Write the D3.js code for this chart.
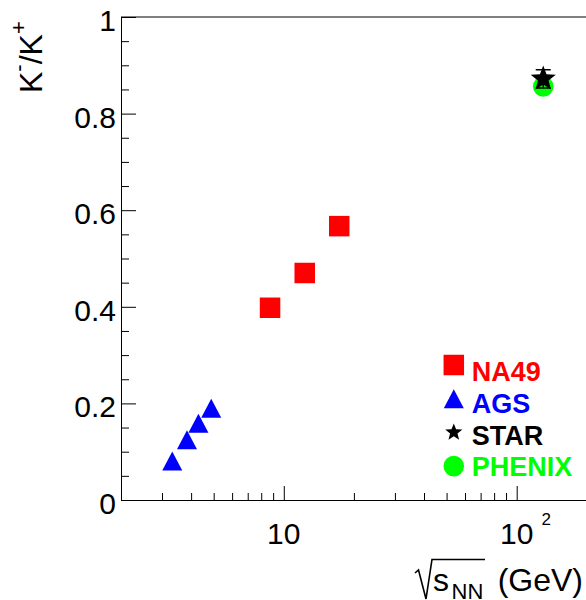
<!DOCTYPE html>
<html>
<head>
<meta charset="utf-8">
<script src="https://cdn.jsdelivr.net/npm/d3@7"></script>
<style>
  body { margin: 0; background: #fff; }
  svg { display: block; font-family: "Liberation Sans", Arial, sans-serif; }
</style>
</head>
<body>
<div id="chart-area"></div>
<script>

// values
var na49Energy = [8.73, 12.3, 17.3];
var na49Ratio = [0.398, 0.470, 0.567];

var agsEnergy = [3.32, 3.84, 4.30, 4.88];
var agsRatio = [0.081, 0.125, 0.159, 0.190];

var starEnergy = [130];
var starRatio = [0.872];
var starError = [0.019];

var phenixEnergy = [130];
var phenixRatio = [0.856];

var yTicks = [0, 0.2, 0.4, 0.6, 0.8, 1];
var xTicks = [10, 100];
var xTickBase = ["10", "10"];
var xTickExp = ["", "2"];

var legendNames = ["NA49", "AGS", "STAR", "PHENIX"];
var legendColors = ["#ff0000", "#0000ff", "#000000", "#00ff00"];

var width = 586, height = 600;

var svg = d3.select("#chart-area")
  .append("svg")
    .attr("width", width)
    .attr("height", height);

var x = d3.scaleLog()
    .domain([2, 200])
    .range([121, 586.8]);

var y = d3.scaleLinear()
    .domain([0, 1])
    .range([500, 17]);

// marker shapes
var squarePath = d3.symbol(d3.symbolSquare, 20.5 * 20.5)();
var circlePath = d3.symbol(d3.symbolCircle, Math.PI * 10.3 * 10.3)();
var trianglePath = "M0,-9.5L10,9.5L-10,9.5Z";
function starShape(R, r) {
    var pts = [];
    for (var i = 0; i < 10; i++) {
        var a = -Math.PI / 2 + i * Math.PI / 5;
        var rad = i % 2 ? r : R;
        pts.push([rad * Math.cos(a), rad * Math.sin(a)]);
    }
    return "M" + pts.join("L") + "Z";
}
var starPath = starShape(13.2, 5.6);
var legendStarPath = starShape(9, 3.9);
var legendShapes = [squarePath, trianglePath, legendStarPath, circlePath];

// minor ticks
var yMinor = d3.range(0.05, 1, 0.05).filter((d) => Math.abs(d * 5 - Math.round(d * 5)) > 1e-6);
var xMinor = [];
[1, 10, 100].forEach((dec) => {
    d3.range(2, 10).forEach((m) => {
        var v = m * dec;
        if (v > 2 && v < 200) xMinor.push(v);
    });
});

// frame top line
svg.append("line")
    .attr("x1", 121).attr("x2", 587)
    .attr("y1", 17).attr("y2", 17)
    .attr("stroke", "#000")
    .attr("stroke-width", 1);

// y axis
svg.append("g")
    .attr("class", "y minor")
    .attr("transform", "translate(121,0)")
    .call(d3.axisLeft(y).tickValues(yMinor).tickSize(-8).tickSizeOuter(0).tickFormat(""));

var yAxis = svg.append("g")
    .attr("class", "left axis")
    .attr("transform", "translate(121,0)")
    .call(d3.axisLeft(y).tickValues(yTicks).tickSize(-15).tickSizeOuter(0)
        .tickPadding(5).tickFormat(d3.format("~g")));
yAxis.selectAll("text")
    .attr("font-size", "30px")
    .attr("font-family", "Liberation Sans, Arial, sans-serif")
    .attr("fill", "#000")
    .attr("dy", "0.45em");

// x axis
svg.append("g")
    .attr("class", "x minor")
    .attr("transform", "translate(0,500)")
    .call(d3.axisBottom(x).tickValues(xMinor).tickSize(-7).tickSizeOuter(0).tickFormat(""));

svg.append("g")
    .attr("class", "bottom axis")
    .attr("transform", "translate(0,500)")
    .call(d3.axisBottom(x).tickValues(xTicks).tickSize(-14).tickSizeOuter(0).tickFormat(""));

svg.selectAll(".domain").attr("stroke", "#000");
svg.selectAll(".tick line").attr("stroke", "#000");

var xLab = svg.selectAll(".xlab").data(xTicks).enter();
xLab.append("text")
    .attr("class", "xlab")
    .attr("x", (d) => x(d))
    .attr("y", 544)
    .attr("text-anchor", "middle")
    .attr("font-size", "30px")
    .text((d, i) => xTickBase[i])
    .each(function(d, i) {
        if (!xTickExp[i]) return;
        var w = this.getComputedTextLength();
        svg.append("text")
            .attr("x", x(d) + w / 2 + 8)
            .attr("y", 525)
            .attr("font-size", "17px")
            .text(xTickExp[i]);
    });

// axis titles
var yTitle = svg.append("text")
    .attr("class", "y axis-label")
    .attr("transform", "translate(42,93) rotate(-90)")
    .attr("font-size", "32px");
yTitle.append("tspan").text("K");
yTitle.append("tspan").attr("font-size", "22px").attr("dy", -16).text("-");
yTitle.append("tspan").attr("dy", 16).text("/K");
yTitle.append("tspan").attr("font-size", "22px").attr("dy", -16).text("+");

svg.append("text")
    .attr("x", 433).attr("y", 591)
    .attr("font-size", "32px")
    .text("s");
svg.append("text")
    .attr("x", 451.5).attr("y", 599)
    .attr("font-size", "22px")
    .text("NN");
svg.append("text")
    .attr("x", 583).attr("y", 591)
    .attr("text-anchor", "end")
    .attr("font-size", "32px")
    .text("(GeV)");
svg.append("path")
    .attr("d", "M415,573L418.5,570L426,599L432,559.5L485,559.5")
    .attr("fill", "none")
    .attr("stroke", "#000")
    .attr("stroke-width", 1.6);

// data
svg.selectAll(".na49").data(na49Energy).enter()
  .append("path")
    .attr("class", "na49")
    .attr("d", squarePath)
    .attr("transform", (d, i) => "translate(" + x(d) + "," + y(na49Ratio[i]) + ")")
    .attr("fill", legendColors[0]);

svg.selectAll(".ags").data(agsEnergy).enter()
  .append("path")
    .attr("class", "ags")
    .attr("d", trianglePath)
    .attr("transform", (d, i) => "translate(" + x(d) + "," + y(agsRatio[i]) + ")")
    .attr("fill", legendColors[1]);

svg.selectAll(".phenix").data(phenixEnergy).enter()
  .append("path")
    .attr("class", "phenix")
    .attr("d", circlePath)
    .attr("transform", (d, i) => "translate(" + x(d) + "," + y(phenixRatio[i]) + ")")
    .attr("fill", legendColors[3]);

var starG = svg.selectAll(".star").data(starEnergy).enter()
  .append("g")
    .attr("class", "star");
starG.append("path")
    .attr("d", starPath)
    .attr("transform", (d, i) => "translate(" + x(d) + "," + y(starRatio[i]) + ")")
    .attr("fill", legendColors[2]);
starG.append("path")
    .attr("d", (d, i) => {
        var cx = x(d), lo = y(starRatio[i] - starError[i]), hi = y(starRatio[i] + starError[i]);
        return "M" + cx + "," + lo + "V" + hi +
            "M" + (cx - 7.5) + "," + hi + "H" + (cx + 7.5) +
            "M" + (cx - 7.5) + "," + lo + "H" + (cx + 7.5);
    })
    .attr("stroke", "#000")
    .attr("stroke-width", 1.5)
    .attr("fill", "none");

// legend
var legend = svg.selectAll(".legend").data(legendNames).enter()
  .append("g")
    .attr("class", "legend");
legend.append("path")
    .attr("d", (d, i) => legendShapes[i])
    .attr("transform", (d, i) => "translate(453.8," + (365 + i * 33.7) + ")")
    .attr("fill", (d, i) => legendColors[i]);
legend.append("text")
    .attr("x", 471.7)
    .attr("y", (d, i) => 381.3 + i * 31.7)
    .attr("font-size", "27px")
    .attr("font-weight", "bold")
    .attr("fill", (d, i) => legendColors[i])
    .text((d) => d);

</script>
</body>
</html>
